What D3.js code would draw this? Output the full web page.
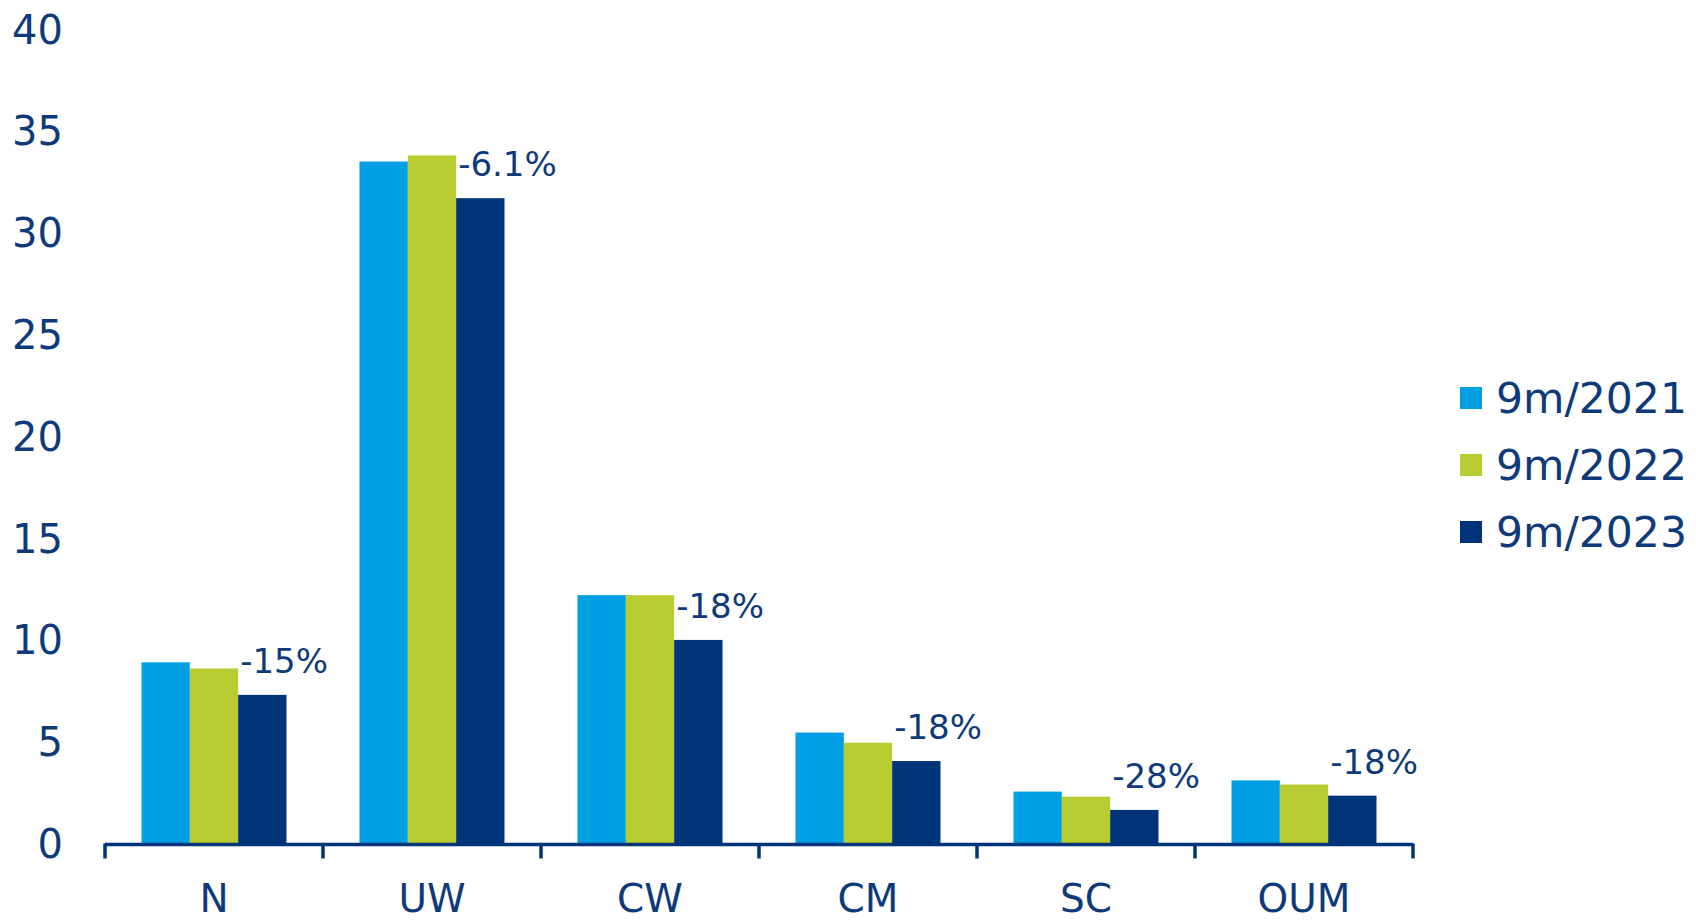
<!DOCTYPE html>
<html>
<head>
<meta charset="utf-8">
<script src="https://cdn.jsdelivr.net/npm/d3@7"></script>
<style>
  body { margin: 0; background: #fff; }
  text { font-family: "DejaVu Sans", Verdana, sans-serif; fill: #0f3a7a; }
</style>
</head>
<body>
<svg></svg>
<script>
var categories = ['N', 'UW', 'CW', 'CM', 'SC', 'OUM'];
var seriesNames = ['9m/2021', '9m/2022', '9m/2023'];
var v2021 = [8.9, 33.5, 12.2, 5.45, 2.55, 3.1];
var v2022 = [8.6, 33.8, 12.2, 4.95, 2.3, 2.9];
var v2023 = [7.3, 31.7, 10.0, 4.05, 1.65, 2.35];
var changeLabels = ['-15%', '-6.1%', '-18%', '-18%', '-28%', '-18%'];
var yTicks = [0, 5, 10, 15, 20, 25, 30, 35, 40];

const iWidth = 1696, iHeight = 922;
const colors = ['#009fe3', '#b9cd33', '#003479'];
const navy = '#003479';

var canvas = d3.select('svg')
               .attr('width', iWidth)
               .attr('height', iHeight);

const xScale = d3.scaleBand()
                 .domain(categories)
                 .range([105, 1413]);

const xInner = d3.scaleBand()
                 .domain(seriesNames)
                 .range([36.5, xScale.bandwidth() - 36.5]);

const yScale = d3.scaleLinear()
                 .domain([0, 40])
                 .range([843.5, 29.2]);

var allSeries = [v2021, v2022, v2023];

// bars
var groups = canvas.selectAll('g.cat')
      .data(categories)
      .enter()
        .append('g')
        .attr('class', 'cat')
        .attr('transform', d => `translate(${xScale(d)},0)`);

groups.selectAll('rect')
      .data((d, i) => allSeries.map((s, j) => ({ name: seriesNames[j], value: s[i], j: j })))
      .enter()
        .append('rect')
        .attr('x', d => xInner(d.name))
        .attr('width', xInner.bandwidth())
        .attr('y', d => yScale(d.value))
        .attr('height', d => yScale(0) - yScale(d.value))
        .attr('fill', d => colors[d.j]);

// change labels above the 2023 bar
groups.append('text')
      .attr('x', xInner('9m/2023') + 2)
      .attr('y', (d, i) => yScale(v2023[i]) - 34)
      .attr('dy', '0.35em')
      .attr('font-size', 34)
      .text((d, i) => changeLabels[i]);

// y tick labels (no axis line)
canvas.append('g').selectAll('text')
      .data(yTicks)
      .enter()
        .append('text')
        .attr('x', 63)
        .attr('y', d => yScale(d))
        .attr('dy', '0.36em')
        .attr('text-anchor', 'end')
        .attr('font-size', 40)
        .text(d => d);

// x axis line with ticks between categories
var xAxis = canvas.append('g');
var base = yScale(0);
var edges = categories.map(c => xScale(c)).concat([xScale.range()[1]]);

xAxis.append('line')
     .attr('x1', edges[0]).attr('x2', edges[edges.length - 1])
     .attr('y1', base + 1).attr('y2', base + 1)
     .attr('stroke', navy).attr('stroke-width', 3.5);

xAxis.selectAll('line.tick')
     .data(edges)
     .enter()
       .append('line')
       .attr('class', 'tick')
       .attr('x1', d => d).attr('x2', d => d)
       .attr('y1', base).attr('y2', base + 15)
       .attr('stroke', navy).attr('stroke-width', 3.5);

xAxis.selectAll('text')
     .data(categories)
     .enter()
       .append('text')
       .attr('x', d => xScale(d) + xScale.bandwidth() / 2)
       .attr('y', 898)
       .attr('dy', '0.36em')
       .attr('text-anchor', 'middle')
       .attr('font-size', 39)
       .text(d => d);

// legend
var legend = canvas.append('g').selectAll('g')
      .data(seriesNames)
      .enter()
        .append('g')
        .attr('transform', (d, i) => `translate(1460,${398 + i * 67})`);

legend.append('rect')
      .attr('x', 0).attr('y', -11)
      .attr('width', 22).attr('height', 22)
      .attr('fill', (d, i) => colors[i]);

legend.append('text')
      .attr('x', 36)
      .attr('dy', '0.36em')
      .attr('font-size', 42.5)
      .text(d => d);
</script>
</body>
</html>
